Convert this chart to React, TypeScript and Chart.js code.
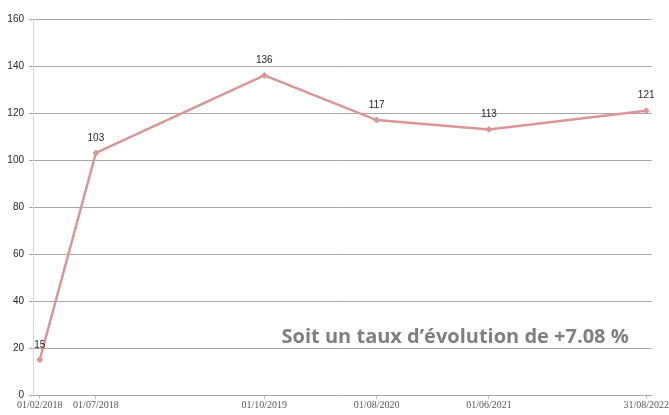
import React, { useEffect, useRef } from "react";
import { Chart, registerables } from "chart.js";

Chart.register(...registerables);

const dateLabels = ["01/02/2018", "01/07/2018", "01/10/2019", "01/08/2020", "01/06/2021", "31/08/2022"];
const values = [15, 103, 136, 117, 113, 121];
const yTicks = [0, 20, 40, 60, 80, 100, 120, 140, 160];
const annotationText = "Soit un taux d\u2019\u00e9volution de +7.08 %";

const LINE_COLOR = "#d99694";

function monthIndex(label: string): number {
  const [, m, y] = label.split("/").map(Number);
  return y * 12 + (m - 1);
}

export default function App() {
  const canvasRef = useRef<HTMLCanvasElement | null>(null);

  useEffect(() => {
    document.body.style.margin = "0";
    const canvas = canvasRef.current;
    if (!canvas) return;
    const base = monthIndex(dateLabels[0]);
    const xs = dateLabels.map((d) => monthIndex(d) - base);
    const points = xs.map((x, i) => ({ x, y: values[i] }));

    const labelPlugin = {
      id: "valueLabels",
      afterDatasetsDraw(chart: any) {
        const ctx = chart.ctx;
        const meta = chart.getDatasetMeta(0);
        ctx.save();
        ctx.font = "10px 'Liberation Sans'";
        ctx.fillStyle = "#262626";
        ctx.textAlign = "center";
        ctx.textBaseline = "middle";
        meta.data.forEach((el: any, i: number) => {
          ctx.fillText(String(values[i]), el.x, el.y - 15);
        });
        ctx.restore();
      },
    };

    const annotationPlugin = {
      id: "annotationText",
      afterDraw(chart: any) {
        const ctx = chart.ctx;
        const area = chart.chartArea;
        ctx.save();
        ctx.font = "bold 20px 'Open Sans'";
        ctx.fillStyle = "#7f7f7f";
        ctx.textAlign = "right";
        ctx.textBaseline = "alphabetic";
        ctx.fillText(annotationText, area.right - 23, 343);
        ctx.restore();
      },
    };

    const chart = new Chart(canvas, {
      type: "line",
      data: {
        datasets: [
          {
            data: points,
            borderColor: LINE_COLOR,
            backgroundColor: LINE_COLOR,
            borderWidth: 2.5,
            pointStyle: "rectRot",
            pointRadius: 3,
            pointBorderWidth: 1,
            tension: 0,
          },
        ],
      },
      options: {
        responsive: false,
        animation: false,
        devicePixelRatio: 1,
        layout: { padding: { left: 0, right: 7, top: 19, bottom: 0 } },
        plugins: { legend: { display: false }, tooltip: { enabled: false } },
        scales: {
          x: {
            type: "linear",
            min: -0.6,
            max: 54.5,
            afterBuildTicks: (scale: any) => {
              scale.ticks = xs.map((v) => ({ value: v }));
            },
            afterFit: (scale: any) => {
              scale.height = 20;
            },
            ticks: {
              autoSkip: false,
              maxRotation: 0,
              padding: 0,
              color: "#595959",
              font: { family: "'Liberation Serif'", size: 10 },
              callback: (v: any) => {
                const i = xs.indexOf(Number(v));
                return i >= 0 ? dateLabels[i] : "";
              },
            },
            grid: { drawOnChartArea: false, drawTicks: true, tickLength: 4, color: "#bfbfbf" },
            border: { color: "#a6a6a6", width: 1 },
          },
          y: {
            min: 0,
            max: 160,
            afterBuildTicks: (scale: any) => {
              scale.ticks = yTicks.map((v) => ({ value: v }));
            },
            afterFit: (scale: any) => {
              scale.width = 33;
            },
            ticks: {
              padding: 5,
              color: "#262626",
              font: { family: "'Liberation Sans'", size: 10 },
            },
            grid: { color: "#a6a6a6", lineWidth: 1, tickLength: 4 },
            border: { color: "#d9d9d9", width: 1 },
          },
        },
      },
      plugins: [labelPlugin, annotationPlugin],
    });
    return () => chart.destroy();
  }, []);

  return <canvas ref={canvasRef} width={669} height={415} style={{ display: "block" }} />;
}
